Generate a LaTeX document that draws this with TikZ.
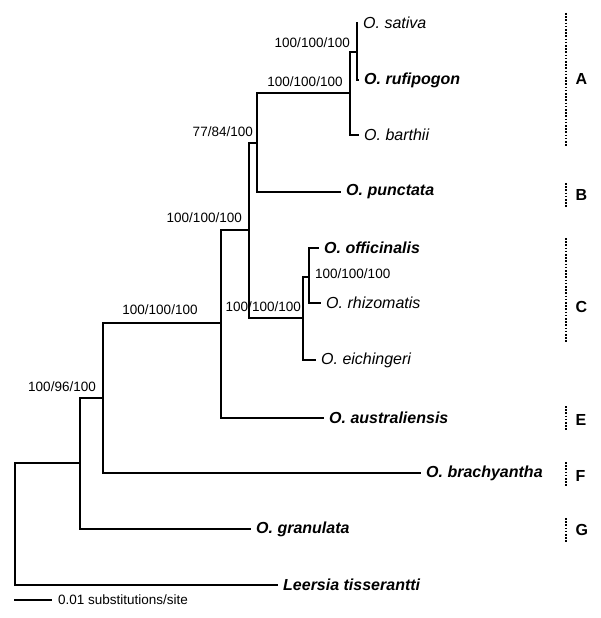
\documentclass[tikz,border=0pt]{standalone}
\usepackage{fontspec}
\setmainfont{Liberation Sans}
\begin{document}
\begin{tikzpicture}[x=1pt,y=-1pt]

	\tikzstyle{branch} = [line width=2.2pt, line cap=rect]
	\tikzstyle{leaf} = [anchor=west, inner xsep=6pt, inner ysep=0pt, font=\fontsize{16}{18}\selectfont\itshape]
	\tikzstyle{leafb} = [leaf, font=\fontsize{16}{18}\selectfont\bfseries\itshape]
	\tikzstyle{support} = [font=\fontsize{13.5}{15}\selectfont, inner sep=1pt]
	\tikzstyle{clade} = [line width=2.5pt, dash pattern=on 1.6pt off 1.6pt]
	\tikzstyle{cladename} = [anchor=west, font=\fontsize{16}{18}\selectfont\bfseries]

	\useasboundingbox (0,0) rectangle (600,618);

%------------------------------------------------------------
	\coordinate (root) at (15,524);
	\coordinate (n80) at (80,463);
	\coordinate (n103) at (103,398);
	\coordinate (n221) at (221,323);
	\coordinate (n249) at (249,230);
	\coordinate (n257) at (257,143);
	\coordinate (n350) at (350,93);
	\coordinate (n357) at (357,52);
	\coordinate (n303) at (303,318);
	\coordinate (n309) at (309,277);

%------------------------------------------------------------
	\node[leaf] (sativa) at (357,23) {O. sativa};
	\node[leafb] (rufipogon) at (358,80) {O. rufipogon};
	\node[leaf] (barthii) at (358,135) {O. barthii};
	\node[leafb] (punctata) at (340,192) {O. punctata};
	\node[leafb] (officinalis) at (318,248) {O. officinalis};
	\node[leaf] (rhizomatis) at (320,303) {O. rhizomatis};
	\node[leaf] (eichingeri) at (315,360) {O. eichingeri};
	\node[leafb] (australiensis) at (323,418) {O. australiensis};
	\node[leafb] (brachyantha) at (420,473) {O. brachyantha};
	\node[leafb] (granulata) at (250,529) {O. granulata};
	\node[leafb] (leersia) at (277,585) {Leersia tisserantti};

%------------------------------------------------------------
	\draw[branch] (root) |- (leersia.west);
	\draw[branch] (root) |- (n80);
	\draw[branch] (n80) |- (granulata.west);
	\draw[branch] (n80) |- (n103);
	\draw[branch] (n103) |- (brachyantha.west);
	\draw[branch] (n103) |- (n221);
	\draw[branch] (n221) |- (australiensis.west);
	\draw[branch] (n221) |- (n249);
	\draw[branch] (n249) |- (n303);
	\draw[branch] (n249) |- (n257);
	\draw[branch] (n303) |- (eichingeri.west);
	\draw[branch] (n303) |- (n309);
	\draw[branch] (n309) |- (officinalis.west);
	\draw[branch] (n309) |- (rhizomatis.west);
	\draw[branch] (n257) |- (punctata.west);
	\draw[branch] (n257) |- (n350);
	\draw[branch] (n350) |- (barthii.west);
	\draw[branch] (n350) |- (n357);
	\draw[branch] (n357) |- (sativa.west);
	\draw[branch] (n357) |- (rufipogon.west);

%------------------------------------------------------------
	\node[support, anchor=east] at (97,387) {100/96/100};
	\node[support] at (160,310) {100/100/100};
	\node[support, anchor=east] at (243,218) {100/100/100};
	\node[support, anchor=east] at (254,132) {77/84/100};
	\node[support] at (305,82) {100/100/100};
	\node[support, anchor=east] at (351,43) {100/100/100};
	\node[support, anchor=east] at (302,307) {100/100/100};
	\node[support, anchor=west] at (314,274) {100/100/100};

%------------------------------------------------------------
	\coordinate (a1) at (566,13);  \coordinate (a2) at (566,147);
	\coordinate (b1) at (566,183); \coordinate (b2) at (566,207);
	\coordinate (c1) at (566,238); \coordinate (c2) at (566,343);
	\coordinate (e1) at (566,406); \coordinate (e2) at (566,430);
	\coordinate (f1) at (566,462); \coordinate (f2) at (566,486);
	\coordinate (g1) at (566,518); \coordinate (g2) at (566,542);
	\draw[clade] (a1) -- (a2);
	\draw[clade] (b1) -- (b2);
	\draw[clade] (c1) -- (c2);
	\draw[clade] (e1) -- (e2);
	\draw[clade] (f1) -- (f2);
	\draw[clade] (g1) -- (g2);
	\node[cladename] (A) at (572,79) {A};
	\node[cladename] (B) at (572,195) {B};
	\node[cladename] (C) at (572,307) {C};
	\node[cladename] (E) at (572,420) {E};
	\node[cladename] (F) at (572,476) {F};
	\node[cladename] (G) at (572,530) {G};

%------------------------------------------------------------
	\coordinate (s1) at (15,600);
	\node[support, anchor=west, inner xsep=7pt] (scale) at (51,600) {0.01 substitutions/site};
	\draw[branch] (s1) -- (scale.west);

\end{tikzpicture}
\end{document}
